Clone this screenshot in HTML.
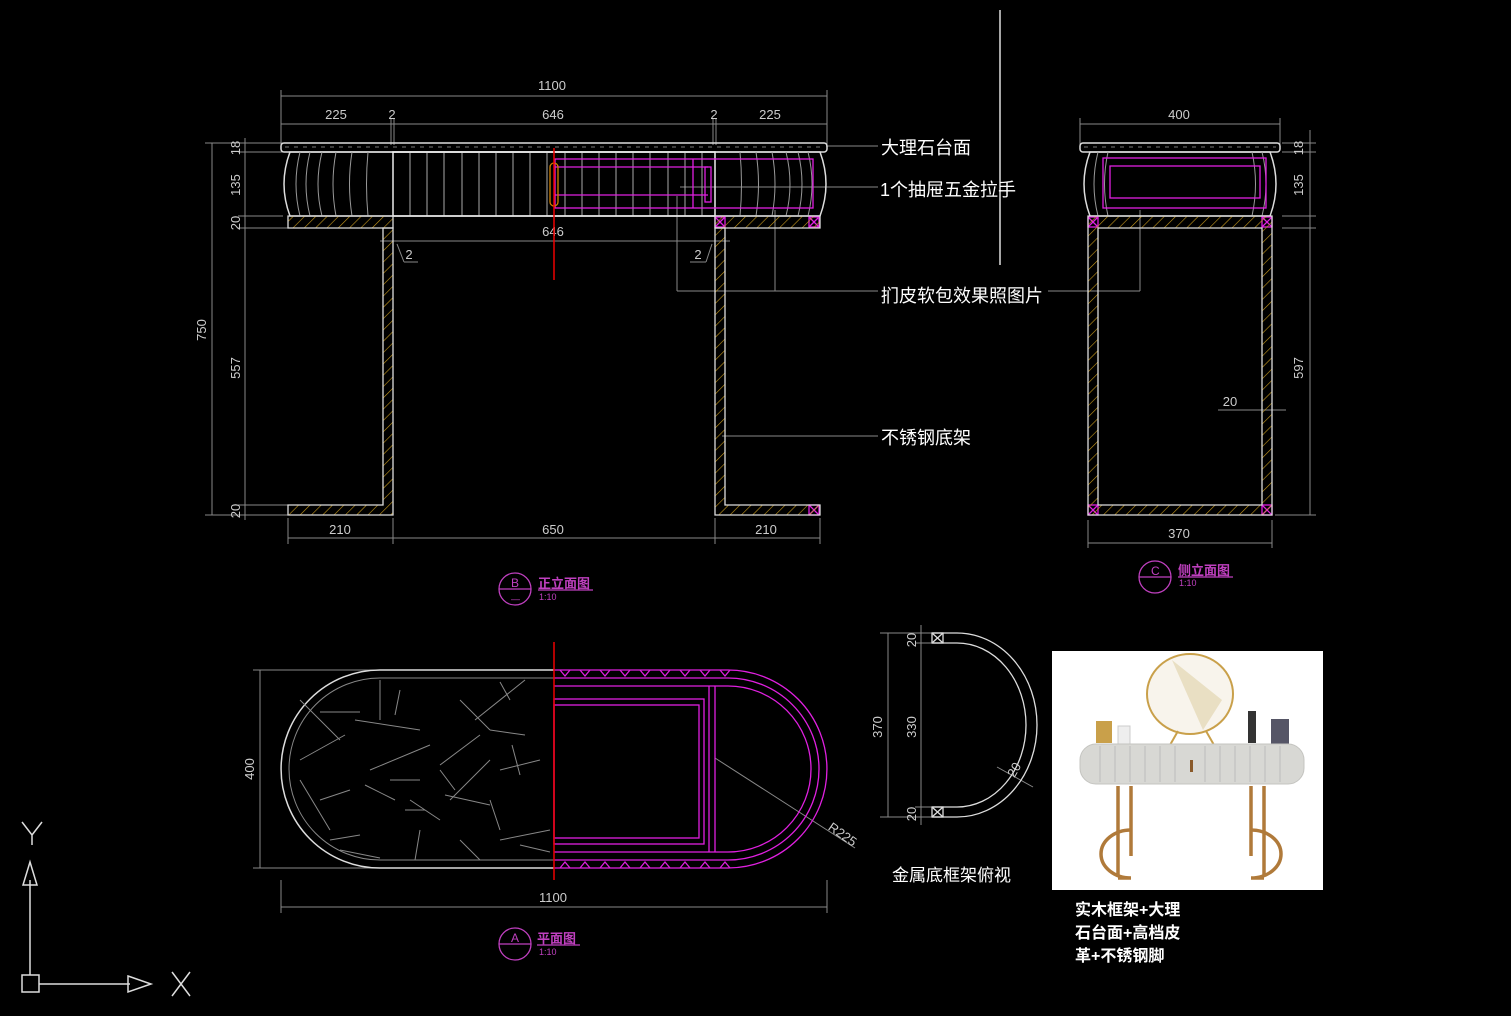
<!DOCTYPE html>
<html><head><meta charset="utf-8"><style>
html,body{margin:0;padding:0;background:#000;}
svg{display:block}
text{font-family:"Liberation Sans","Noto Sans CJK SC",sans-serif;}
</style></head><body>
<svg width="1511" height="1016" viewBox="0 0 1511 1016" xmlns="http://www.w3.org/2000/svg">
<defs>
<pattern id="hat" width="8" height="8" patternUnits="userSpaceOnUse" patternTransform="rotate(45)">
<line x1="0" y1="0" x2="0" y2="8" stroke="#c89a1e" stroke-width="1.2"/>
</pattern>
</defs>
<rect width="1511" height="1016" fill="#000"/>
<line x1="1000" y1="10" x2="1000" y2="265" stroke="#ddd" stroke-width="1.5"/>

<!-- ===== FRONT ELEVATION ===== -->
<g stroke="#888" stroke-width="1" fill="none">
<line x1="281" y1="96" x2="827" y2="96"/><line x1="281" y1="90" x2="281" y2="145"/><line x1="827" y1="90" x2="827" y2="145"/>
<line x1="281" y1="124" x2="827" y2="124"/><line x1="391" y1="118" x2="391" y2="145"/><line x1="394" y1="118" x2="394" y2="145"/><line x1="713" y1="118" x2="713" y2="145"/><line x1="716" y1="118" x2="716" y2="145"/>
<line x1="212" y1="143" x2="212" y2="515"/><line x1="205" y1="143" x2="283" y2="143"/><line x1="205" y1="515" x2="290" y2="515"/>
<line x1="245" y1="138" x2="245" y2="520"/>
<line x1="238" y1="152" x2="283" y2="152"/><line x1="238" y1="216" x2="283" y2="216"/><line x1="238" y1="228" x2="288" y2="228"/><line x1="238" y1="505" x2="288" y2="505"/>
<line x1="288" y1="538" x2="820" y2="538"/><line x1="288" y1="518" x2="288" y2="544"/><line x1="393" y1="518" x2="393" y2="544"/><line x1="715" y1="518" x2="715" y2="544"/><line x1="820" y1="518" x2="820" y2="544"/>
<line x1="380" y1="241" x2="730" y2="241"/>
<line x1="397" y1="244" x2="404" y2="262"/><line x1="404" y1="262" x2="418" y2="262"/>
<line x1="712" y1="244" x2="706" y2="262"/><line x1="706" y1="262" x2="690" y2="262"/>
<line x1="826" y1="146" x2="878" y2="146"/>
<line x1="680" y1="187" x2="878" y2="187"/>
<line x1="677" y1="196" x2="677" y2="291"/><line x1="775" y1="210" x2="775" y2="291"/><line x1="677" y1="291" x2="878" y2="291"/>
<line x1="1048" y1="291" x2="1140" y2="291"/><line x1="1140" y1="210" x2="1140" y2="291"/>
<line x1="722" y1="436" x2="878" y2="436"/>
</g>
<g fill="#ccc" font-size="13" text-anchor="middle">
<text x="552" y="90">1100</text><text x="336" y="119">225</text><text x="392" y="119">2</text><text x="553" y="119">646</text><text x="714" y="119">2</text><text x="770" y="119">225</text>
<text x="553" y="236">646</text><text x="409" y="259">2</text><text x="698" y="259">2</text>
<text x="340" y="534">210</text><text x="553" y="534">650</text><text x="766" y="534">210</text>
<text transform="translate(206,330) rotate(-90)">750</text>
<text transform="translate(240,148) rotate(-90)">18</text>
<text transform="translate(240,185) rotate(-90)">135</text>
<text transform="translate(240,223) rotate(-90)">20</text>
<text transform="translate(240,368) rotate(-90)">557</text>
<text transform="translate(240,511) rotate(-90)">20</text>
</g>
<rect x="281" y="143" width="546" height="9" rx="3" fill="none" stroke="#ddd" stroke-width="1.5"/>
<line x1="285" y1="147" x2="823" y2="147" stroke="#777" stroke-dasharray="4 5"/>
<path d="M290 152 H820 Q832 184 820 216 H290 Q278 184 290 152Z" fill="none" stroke="#ddd" stroke-width="1.5"/>
<g stroke="#999" fill="none">
<path d="M300 152 Q292 184 300 216"/><path d="M310 152 Q302 184 310 216"/><path d="M322 152 Q314 184 322 216"/><path d="M336 152 Q330 184 336 216"/><path d="M352 152 Q347 184 352 216"/><path d="M368 152 Q365 184 368 216"/>
<path d="M808 152 Q816 184 808 216"/><path d="M798 152 Q806 184 798 216"/><path d="M786 152 Q794 184 786 216"/><path d="M772 152 Q778 184 772 216"/><path d="M756 152 Q761 184 756 216"/><path d="M740 152 Q743 184 740 216"/>
</g>
<g stroke="#aaa">
<line x1="410" y1="152" x2="410" y2="216"/><line x1="427" y1="152" x2="427" y2="216"/><line x1="444" y1="152" x2="444" y2="216"/><line x1="462" y1="152" x2="462" y2="216"/><line x1="479" y1="152" x2="479" y2="216"/><line x1="496" y1="152" x2="496" y2="216"/><line x1="513" y1="152" x2="513" y2="216"/><line x1="530" y1="152" x2="530" y2="216"/><line x1="547" y1="152" x2="547" y2="216"/><line x1="565" y1="152" x2="565" y2="216"/><line x1="582" y1="152" x2="582" y2="216"/><line x1="599" y1="152" x2="599" y2="216"/><line x1="616" y1="152" x2="616" y2="216"/><line x1="633" y1="152" x2="633" y2="216"/><line x1="650" y1="152" x2="650" y2="216"/><line x1="668" y1="152" x2="668" y2="216"/><line x1="685" y1="152" x2="685" y2="216"/><line x1="702" y1="152" x2="702" y2="216"/>
</g>
<rect x="393" y="152" width="322" height="64" fill="none" stroke="#eee" stroke-width="1.5"/>
<g stroke="#e020e0" fill="none" stroke-width="1.3">
<rect x="555" y="159" width="258" height="49"/><line x1="555" y1="167" x2="708" y2="167"/><line x1="555" y1="195" x2="708" y2="195"/><rect x="705" y="167" width="6" height="35"/><line x1="693" y1="159" x2="693" y2="208"/>
<rect x="715" y="217" width="10" height="10"/><path d="M715 217 L725 227 M725 217 L715 227"/>
<rect x="809" y="217" width="10" height="10"/><path d="M809 217 L819 227 M819 217 L809 227"/>
<rect x="809" y="505" width="10" height="10"/><path d="M809 505 L819 515 M819 505 L809 515"/>
</g>
<rect x="550" y="163" width="8" height="43" rx="4" fill="none" stroke="#d08000" stroke-width="1.3"/>
<g fill="url(#hat)" stroke="#ddd" stroke-width="1.3">
<path d="M288 216 H393 V228 H288Z"/>
<path d="M715 216 H820 V228 H715Z"/>
<path d="M383 228 H393 V515 H288 V505 H383Z"/>
<path d="M715 228 H725 V505 H820 V515 H715Z"/>
</g>
<line x1="554" y1="148" x2="554" y2="280" stroke="#e00" stroke-width="1.5"/>

<g fill="#fff" font-size="18">
<text x="881" y="154">大理石台面</text>
<text x="880" y="196">1个抽屉五金拉手</text>
<text x="881" y="302">扪皮软包效果照图片</text>
<text x="881" y="444">不锈钢底架</text>
</g>

<g stroke="#c040c0" fill="none" stroke-width="1.3">
<circle cx="515" cy="589" r="16"/><line x1="499" y1="589" x2="531" y2="589"/><line x1="538" y1="590" x2="593" y2="590"/>
<circle cx="1155" cy="577" r="16"/><line x1="1139" y1="577" x2="1171" y2="577"/><line x1="1178" y1="577" x2="1233" y2="577"/>
<circle cx="515" cy="944" r="16"/><line x1="499" y1="944" x2="531" y2="944"/><line x1="537" y1="945" x2="580" y2="945"/>
</g>
<g fill="#c040c0" font-size="12">
<text x="511" y="587">B</text><text x="538" y="588" font-weight="bold" font-size="13">正立面图</text><text x="539" y="600" font-size="9">1:10</text><text x="511" y="602" font-size="9">—</text>
<text x="1151" y="575">C</text><text x="1178" y="575" font-weight="bold" font-size="13">侧立面图</text><text x="1179" y="586" font-size="9">1:10</text>
<text x="511" y="942">A</text><text x="537" y="943" font-weight="bold" font-size="13">平面图</text><text x="539" y="955" font-size="9">1:10</text>
</g>

<!-- ===== SIDE ELEVATION ===== -->
<g stroke="#888" fill="none">
<line x1="1080" y1="124" x2="1280" y2="124"/><line x1="1080" y1="118" x2="1080" y2="145"/><line x1="1280" y1="118" x2="1280" y2="145"/>
<line x1="1310" y1="130" x2="1310" y2="515"/><line x1="1282" y1="143" x2="1316" y2="143"/><line x1="1282" y1="152" x2="1316" y2="152"/><line x1="1282" y1="216" x2="1316" y2="216"/><line x1="1282" y1="228" x2="1316" y2="228"/><line x1="1275" y1="515" x2="1316" y2="515"/>
<line x1="1088" y1="543" x2="1272" y2="543"/><line x1="1088" y1="520" x2="1088" y2="548"/><line x1="1272" y1="520" x2="1272" y2="548"/>
<line x1="1218" y1="410" x2="1286" y2="410"/>
</g>
<g fill="#ccc" font-size="13" text-anchor="middle">
<text x="1179" y="119">400</text><text x="1179" y="538">370</text><text x="1230" y="406">20</text>
<text transform="translate(1303,148) rotate(-90)">18</text>
<text transform="translate(1303,185) rotate(-90)">135</text>
<text transform="translate(1303,368) rotate(-90)">597</text>
</g>
<rect x="1080" y="143" width="200" height="9" rx="3" fill="none" stroke="#ddd" stroke-width="1.5"/>
<line x1="1084" y1="147" x2="1276" y2="147" stroke="#777" stroke-dasharray="4 5"/>
<path d="M1090 152 H1270 Q1282 184 1270 216 H1090 Q1078 184 1090 152Z" fill="none" stroke="#ddd" stroke-width="1.5"/>
<g stroke="#999" fill="none">
<path d="M1098 152 Q1090 184 1098 216"/><path d="M1108 152 Q1101 184 1108 216"/><path d="M1262 152 Q1270 184 1262 216"/><path d="M1252 152 Q1259 184 1252 216"/>
</g>
<g stroke="#e020e0" fill="none" stroke-width="1.3">
<rect x="1103" y="158" width="163" height="50"/><rect x="1110" y="166" width="150" height="32"/>
<rect x="1088" y="217" width="10" height="10"/><path d="M1088 217 L1098 227 M1098 217 L1088 227"/>
<rect x="1262" y="217" width="10" height="10"/><path d="M1262 217 L1272 227 M1272 217 L1262 227"/>
<rect x="1088" y="505" width="10" height="10"/><path d="M1088 505 L1098 515 M1098 505 L1088 515"/>
<rect x="1262" y="505" width="10" height="10"/><path d="M1262 505 L1272 515 M1272 505 L1262 515"/>
</g>
<g fill="url(#hat)" stroke="#ddd" stroke-width="1.3">
<path d="M1088 216 H1272 V515 H1088Z M1098 228 V505 H1262 V228Z" fill-rule="evenodd"/>
</g>

<!-- ===== PLAN ===== -->
<g stroke="#888" fill="none">
<line x1="260" y1="670" x2="260" y2="868"/><line x1="253" y1="670" x2="380" y2="670"/><line x1="253" y1="868" x2="380" y2="868"/>
<line x1="281" y1="907" x2="827" y2="907"/><line x1="281" y1="880" x2="281" y2="913"/><line x1="827" y1="880" x2="827" y2="913"/>
<line x1="715" y1="758" x2="855" y2="848"/>
</g>
<g fill="#ccc" font-size="13" text-anchor="middle">
<text transform="translate(254,769) rotate(-90)">400</text>
<text x="553" y="902">1100</text>
<text transform="translate(840,838) rotate(35)">R225</text>
</g>
<path d="M554 670 H380 A99 99 0 0 0 380 868 H554" fill="none" stroke="#ddd" stroke-width="1.5"/>
<path d="M554 678 H380 A91 91 0 0 0 380 860 H554" fill="none" stroke="#888"/>
<g stroke="#888">
<line x1="300" y1="700" x2="340" y2="740"/><line x1="380" y1="680" x2="380" y2="720"/><line x1="355" y1="720" x2="420" y2="730"/><line x1="300" y1="760" x2="345" y2="735"/><line x1="370" y1="770" x2="430" y2="745"/><line x1="390" y1="780" x2="420" y2="780"/><line x1="365" y1="785" x2="395" y2="800"/><line x1="320" y1="800" x2="350" y2="790"/><line x1="300" y1="780" x2="330" y2="830"/><line x1="330" y1="840" x2="360" y2="835"/><line x1="410" y1="800" x2="440" y2="820"/><line x1="405" y1="810" x2="425" y2="810"/><line x1="420" y1="830" x2="415" y2="860"/><line x1="460" y1="700" x2="490" y2="730"/><line x1="475" y1="720" x2="525" y2="680"/><line x1="490" y1="730" x2="525" y2="735"/><line x1="440" y1="765" x2="480" y2="735"/><line x1="440" y1="770" x2="455" y2="790"/><line x1="450" y1="800" x2="490" y2="760"/><line x1="445" y1="795" x2="490" y2="805"/><line x1="500" y1="770" x2="540" y2="760"/><line x1="490" y1="800" x2="500" y2="830"/><line x1="500" y1="840" x2="550" y2="830"/><line x1="460" y1="840" x2="480" y2="860"/><line x1="512" y1="745" x2="520" y2="775"/><line x1="320" y1="712" x2="360" y2="712"/><line x1="400" y1="690" x2="395" y2="715"/><line x1="500" y1="682" x2="510" y2="700"/><line x1="340" y1="850" x2="380" y2="858"/><line x1="520" y1="845" x2="550" y2="852"/>
</g>
<g stroke="#e020e0" fill="none" stroke-width="1.3">
<path d="M554 670 H728 A99 99 0 0 1 728 868 H554"/>
<path d="M554 678 H728 A91 91 0 0 1 728 860 H554"/>
<path d="M554 686 H728 A83 83 0 0 1 728 852 H554"/>
<rect x="554" y="699" width="150" height="145"/><rect x="554" y="705" width="145" height="133"/>
<line x1="709" y1="686" x2="709" y2="852"/><line x1="715" y1="686" x2="715" y2="852"/>
<path d="M560 670 l5 6 l5 -6 M580 670 l5 6 l5 -6 M600 670 l5 6 l5 -6 M620 670 l5 6 l5 -6 M640 670 l5 6 l5 -6 M660 670 l5 6 l5 -6 M680 670 l5 6 l5 -6 M700 670 l5 6 l5 -6 M720 670 l5 6 l5 -6" />
<path d="M560 868 l5 -6 l5 6 M580 868 l5 -6 l5 6 M600 868 l5 -6 l5 6 M620 868 l5 -6 l5 6 M640 868 l5 -6 l5 6 M660 868 l5 -6 l5 6 M680 868 l5 -6 l5 6 M700 868 l5 -6 l5 6 M720 868 l5 -6 l5 6" />
</g>
<line x1="554" y1="642" x2="554" y2="880" stroke="#e00" stroke-width="1.5"/>

<g stroke="#888" fill="none">
<line x1="888" y1="633" x2="888" y2="817"/><line x1="880" y1="633" x2="935" y2="633"/><line x1="880" y1="817" x2="935" y2="817"/>
<line x1="921" y1="625" x2="921" y2="825"/><line x1="915" y1="643" x2="932" y2="643"/><line x1="915" y1="807" x2="932" y2="807"/>
<line x1="997" y1="767" x2="1033" y2="787"/>
</g>
<g fill="#ccc" font-size="13" text-anchor="middle">
<text transform="translate(882,727) rotate(-90)">370</text>
<text transform="translate(916,727) rotate(-90)">330</text>
<text transform="translate(916,640) rotate(-90)">20</text>
<text transform="translate(916,814) rotate(-90)">20</text>
<text transform="translate(1018,772) rotate(-60)">20</text>
</g>
<g stroke="#ddd" fill="none" stroke-width="1.3">
<path d="M932 633 H957 A80 92 0 0 1 957 817 H932"/>
<path d="M932 643 H957 A69 82 0 0 1 957 807 H932"/>
<rect x="932" y="633" width="11" height="10"/><path d="M932 633 L943 643 M943 633 L932 643"/>
<rect x="932" y="807" width="11" height="10"/><path d="M932 807 L943 817 M943 807 L932 817"/>
</g>
<text x="892" y="881" fill="#fff" font-size="17">金属底框架俯视</text>

<!-- photo -->
<rect x="1052" y="651" width="271" height="239" fill="#fff"/>
<ellipse cx="1190" cy="694" rx="43" ry="40" fill="#f8f4ec" stroke="#c9a04a" stroke-width="2"/>
<path d="M1172 660 L1222 700 L1203 730 Z" fill="#e0d0a8" opacity=".6"/>
<line x1="1178" y1="731" x2="1170" y2="745" stroke="#c9a04a" stroke-width="2"/><line x1="1206" y1="731" x2="1214" y2="745" stroke="#c9a04a" stroke-width="2"/>
<rect x="1096" y="721" width="16" height="22" fill="#c9a04a"/><rect x="1118" y="726" width="12" height="18" fill="#eee" stroke="#ccc"/>
<rect x="1248" y="711" width="8" height="32" fill="#333"/><rect x="1271" y="719" width="18" height="25" fill="#556"/>
<rect x="1080" y="744" width="224" height="40" rx="16" fill="#d8d8d4" stroke="#c4c4c0"/>
<g stroke="#bbb"><line x1="1100" y1="746" x2="1100" y2="782"/><line x1="1115" y1="746" x2="1115" y2="782"/><line x1="1130" y1="746" x2="1130" y2="782"/><line x1="1145" y1="746" x2="1145" y2="782"/><line x1="1160" y1="746" x2="1160" y2="782"/><line x1="1175" y1="746" x2="1175" y2="782"/><line x1="1205" y1="746" x2="1205" y2="782"/><line x1="1220" y1="746" x2="1220" y2="782"/><line x1="1235" y1="746" x2="1235" y2="782"/><line x1="1250" y1="746" x2="1250" y2="782"/><line x1="1265" y1="746" x2="1265" y2="782"/><line x1="1280" y1="746" x2="1280" y2="782"/></g>
<rect x="1190" y="760" width="3" height="12" fill="#8a5a2a"/>
<g stroke="#b07a3a" stroke-width="3.5" fill="none">
<path d="M1118 786 V876 M1131 786 V856"/>
<path d="M1131 830 A30 24 0 1 0 1131 878 H1118"/>
<path d="M1251 786 V856 M1264 786 V876"/>
<path d="M1251 830 A30 24 0 1 1 1251 878 H1264"/>
</g>
<g fill="#fff" font-size="16" font-weight="bold">
<text x="1075" y="915">实木框架+大理</text>
<text x="1075" y="938">石台面+高档皮</text>
<text x="1075" y="961">革+不锈钢脚</text>
</g>

<g stroke="#ddd" fill="none" stroke-width="1.5">
<rect x="22" y="975" width="17" height="17"/>
<line x1="30" y1="975" x2="30" y2="880"/><path d="M23 885 L30 862 L37 885 Z"/>
<line x1="39" y1="984" x2="130" y2="984"/><path d="M128 976 L151 984 L128 992 Z"/>
<path d="M22 822 L32 835 L42 822 M32 835 V845"/>
<path d="M172 972 L190 996 M190 972 L172 996"/>
</g>
</svg>
</body></html>
